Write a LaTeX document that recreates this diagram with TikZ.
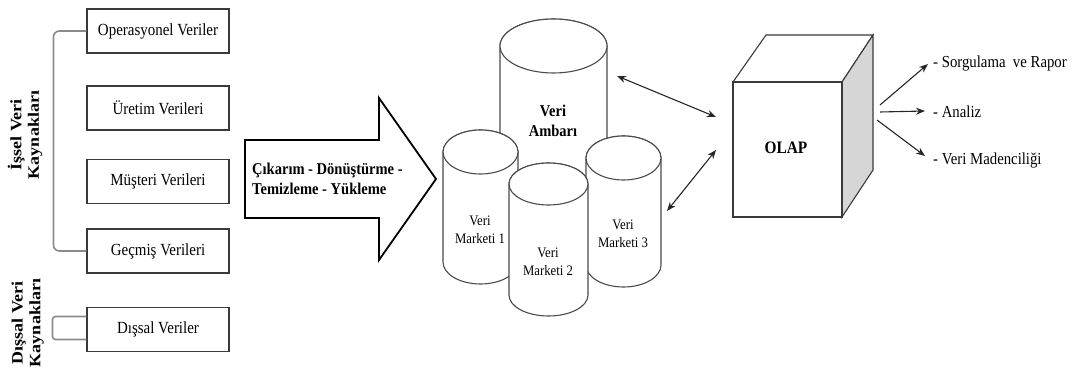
\documentclass[tikz,border=0pt]{standalone}
\usepackage{fontspec}
\setmainfont{Liberation Serif}[FakeStretch=0.88]
\newfontfamily\rotfont{Liberation Serif}
\usetikzlibrary{arrows.meta,calc}
\definecolor{boxgray}{HTML}{3A3A3A}
\definecolor{cylgray}{HTML}{4A4A4A}
\definecolor{brgray}{HTML}{8A8A8A}
\definecolor{sidegray}{HTML}{D6D6D6}
\tikzset{
  box/.style={draw=boxgray, line width=1.1pt, minimum width=142pt, minimum height=44pt, inner sep=0pt, font=\fontsize{17}{20}\selectfont},
  cyl/.style={draw=cylgray, line width=1.1pt, fill=white},
  bracket/.style={draw=brgray, line width=1.6pt},
  cube/.style={draw=boxgray, line width=1.1pt},
  conn/.style={draw=black!85, line width=1.1pt, -{Stealth[length=9pt,width=7pt]}},
  dconn/.style={draw=black!85, line width=1.1pt, {Stealth[length=9pt,width=7pt]}-{Stealth[length=9pt,width=7pt]}},
  cyltext/.style={align=center, font=\fontsize{14.5}{18}\selectfont, inner sep=0pt},
  boldtext/.style={align=center, font=\bfseries\fontsize{16.5}{19.5}\selectfont, inner sep=0pt},
  outtext/.style={anchor=west, inner sep=0pt, font=\fontsize{16.8}{20}\selectfont},
  vlabel/.style={rotate=90, inner sep=0pt, font=\rotfont\bfseries\fontsize{18}{20}\selectfont}
}
% cx, top y, rx, ry, lowest y
\newcommand\cylshape[5]{%
  \filldraw[cyl] (#1-#3,#2+#4) -- (#1-#3,#5-#4)
     arc[start angle=180,end angle=0,x radius=#3,y radius=#4]
     -- (#1+#3,#2+#4)
     arc[start angle=0,end angle=-180,x radius=#3,y radius=#4] -- cycle;
  \draw[cyl] (#1,#2+#4) ellipse[x radius=#3,y radius=#4];
}
\begin{document}
\begin{tikzpicture}[x=1pt,y=-1pt]
\useasboundingbox (0,0) rectangle (1080,374);

% source boxes
\node[box] (op) at (158,31) {Operasyonel Veriler};
\node[box] (ur) at (158,108) {Üretim Verileri};
\node[box] (mu) at (158,181.5) {Müşteri Verileri};
\node[box] (ge) at (158,251) {Geçmiş Verileri};
\node[box] (ds) at (158,329.5) {Dışsal Veriler};

% brackets
\draw[bracket, rounded corners=6pt] (op.west) -- ++(-33,0) |- (ge.west);
\draw[bracket, rounded corners=3pt] ($(ds.west)+(0,-13)$) -- ++(-34,0) -- ++(0,23) -- ($(ds.west)+(0,10)$);

% vertical labels
\node[vlabel] (ic) at (26,135) {\scalebox{1}[0.88]{\begin{tabular}{@{}c@{}}İşsel Veri\\Kaynakları\end{tabular}}};
\node[vlabel] (dis) at (28,323) {\scalebox{1}[0.88]{\begin{tabular}{@{}c@{}}Dışsal Veri\\Kaynakları\end{tabular}}};

% big arrow
\draw[line width=1.8pt, draw=black, fill=white] (245,140) -- (379,140) -- (379,98) -- (436,179) -- (379,260) -- (379,218) -- (245,218) -- cycle;
\node[boldtext, anchor=west, align=left] (etl) at (252,179) {Çıkarım - Dönüştürme -\\Temizleme - Yükleme};

% cylinders
\cylshape{553.5}{19}{53.5}{27}{250}
\node[boldtext] (dw) at (553,121) {Veri\\Ambarı};
\cylshape{480.5}{130}{37.5}{22}{284}
\node[cyltext] (m1) at (480,230) {Veri\\Marketi 1};
\cylshape{623.5}{136}{37.5}{22}{287}
\node[cyltext] (m3) at (623,234) {Veri\\Marketi 3};
\cylshape{548.5}{163}{39.5}{21}{316}
\node[cyltext] (m2) at (548,262) {Veri\\Marketi 2};

% OLAP cube
\draw[cube, fill=white] (733,82) -- (766,35) -- (873,35) -- (842,82) -- cycle;
\draw[cube, fill=sidegray] (842,82) -- (873,35) -- (873,170) -- (842,217) -- cycle;
\draw[cube, fill=white] (733,82) rectangle (842,217);
\node[boldtext, font=\bfseries\fontsize{17.5}{20}\selectfont] (olap) at (786,148) {OLAP};

% connectors
\coordinate (dwR) at (617,76);
\coordinate (olL1) at (716,117);
\coordinate (m3R) at (667,211);
\coordinate (olL2) at (716,150);
\draw[dconn] (dwR) -- (olL1);
\draw[dconn] (m3R) -- (olL2);

% outputs
\node[outtext] (o1) at (933,63) {- Sorgulama\ \ ve Rapor};
\node[outtext] (o2) at (933,112) {- Analiz};
\node[outtext] (o3) at (933,160) {- Veri Madenciliği};
\coordinate (c1) at (880,105);
\coordinate (c2) at (880,112);
\coordinate (c3) at (877,120);
\draw[conn] (c1) -- ($(o1.west)+(-5,1)$);
\draw[conn] (c2) -- ($(o2.west)+(-8,-1)$);
\draw[conn] (c3) -- ($(o3.west)+(-8,-4)$);
\end{tikzpicture}
\end{document}
